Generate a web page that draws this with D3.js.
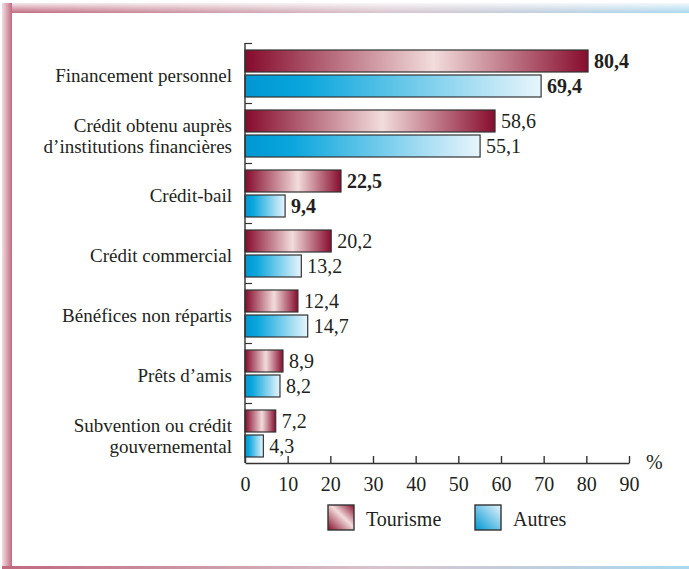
<!doctype html>
<html lang="fr">
<head>
  <meta charset="utf-8">
  <title>Sources de financement</title>
  <script src="https://cdn.jsdelivr.net/npm/d3@7"></script>
  <style>
    body { margin: 0; background: #fff; }
    svg text { fill: #231f20; }
  </style>
</head>
<body>
  <div id="chart"></div>
  <script>
    // data
    var categories = [
      ["Financement personnel"],
      ["Crédit obtenu auprès", "d’institutions financières"],
      ["Crédit-bail"],
      ["Crédit commercial"],
      ["Bénéfices non répartis"],
      ["Prêts d’amis"],
      ["Subvention ou crédit", "gouvernemental"]
    ];
    var tourisme = [80.4, 58.6, 22.5, 20.2, 12.4, 8.9, 7.2];
    var autres = [69.4, 55.1, 9.4, 13.2, 14.7, 8.2, 4.3];
    var boldRows = [0, 2];
    var seriesNames = ["Tourisme", "Autres"];
    var xTicks = [0, 10, 20, 30, 40, 50, 60, 70, 80, 90];

    var serif = "'Liberation Serif', 'DejaVu Serif', 'Times New Roman', serif";
    var W = 689, H = 569;
    var svg = d3.select("#chart").append("svg")
      .attr("width", W).attr("height", H)
      .style("font-family", serif);

    var defs = svg.append("defs");

    // frame gradients
    var gTop = defs.append("linearGradient").attr("id", "frameTop");
    gTop.append("stop").attr("offset", "0%").attr("stop-color", "#c0687e");
    gTop.append("stop").attr("offset", "55%").attr("stop-color", "#d8c4cc");
    gTop.append("stop").attr("offset", "100%").attr("stop-color", "#a9d8ee");
    var gTopFade = defs.append("linearGradient").attr("id", "frameTopFade")
      .attr("x1", 0).attr("y1", 0).attr("x2", 0).attr("y2", 1);
    gTopFade.append("stop").attr("offset", "0%").attr("stop-color", "#fff").attr("stop-opacity", 0.85);
    gTopFade.append("stop").attr("offset", "100%").attr("stop-color", "#fff").attr("stop-opacity", 0);
    var gLeft = defs.append("linearGradient").attr("id", "frameLeft");
    gLeft.append("stop").attr("offset", "0%").attr("stop-color", "#f4dde3");
    gLeft.append("stop").attr("offset", "100%").attr("stop-color", "#bf6a80");

    // bar gradients
    var gT = defs.append("linearGradient").attr("id", "gradT");
    gT.append("stop").attr("offset", "0%").attr("stop-color", "#850a2c");
    gT.append("stop").attr("offset", "55%").attr("stop-color", "#f2dcdc");
    gT.append("stop").attr("offset", "100%").attr("stop-color", "#870c2e");
    var gA = defs.append("linearGradient").attr("id", "gradA");
    gA.append("stop").attr("offset", "0%").attr("stop-color", "#0097d3");
    gA.append("stop").attr("offset", "20%").attr("stop-color", "#0aa6dc");
    gA.append("stop").attr("offset", "100%").attr("stop-color", "#e8f5fc");
    var gTL = defs.append("linearGradient").attr("id", "gradTL")
      .attr("x1", 0).attr("y1", 1).attr("x2", 1).attr("y2", 0);
    gTL.append("stop").attr("offset", "0%").attr("stop-color", "#8a0f2f");
    gTL.append("stop").attr("offset", "55%").attr("stop-color", "#f2dcdc");
    gTL.append("stop").attr("offset", "100%").attr("stop-color", "#8a0f2f");
    var gAL = defs.append("linearGradient").attr("id", "gradAL")
      .attr("x1", 0).attr("y1", 1).attr("x2", 1).attr("y2", 0);
    gAL.append("stop").attr("offset", "0%").attr("stop-color", "#0097d3");
    gAL.append("stop").attr("offset", "100%").attr("stop-color", "#e8f5fc");

    // frame
    svg.append("rect").attr("x", 2).attr("y", 3).attr("width", W - 2).attr("height", 10).attr("fill", "url(#frameTop)");
    svg.append("rect").attr("x", 2).attr("y", 3).attr("width", W - 2).attr("height", 10).attr("fill", "url(#frameTopFade)");
    svg.append("rect").attr("x", 2).attr("y", 3).attr("width", 10).attr("height", H - 3).attr("fill", "url(#frameLeft)");
    svg.append("rect").attr("x", 2).attr("y", 566).attr("width", W - 2).attr("height", 3).attr("fill", "url(#frameTop)");

    // scales
    var x = d3.scaleLinear().domain([0, 90]).range([245, 629]);
    var y = d3.scaleBand().domain(d3.range(categories.length)).range([43, 463]);

    var g = svg.append("g");

    // group ticks on the vertical axis
    g.selectAll(".gtick").data(d3.range(categories.length)).enter().append("line")
      .attr("x1", x(0)).attr("x2", x(0) + 7)
      .attr("y1", function (d) { return y(d) + 0.5; })
      .attr("y2", function (d) { return y(d) + 0.5; })
      .attr("stroke", "#333").attr("stroke-width", 1.2);

    var rows = d3.range(categories.length);
    var barH = 22;

    // bars
    g.selectAll(".barT").data(rows).enter().append("rect")
      .attr("x", x(0)).attr("y", function (i) { return y(i) + 7; })
      .attr("width", function (i) { return x(tourisme[i]) - x(0); })
      .attr("height", barH)
      .attr("fill", "url(#gradT)").attr("stroke", "#333").attr("stroke-width", 1.2);
    g.selectAll(".barA").data(rows).enter().append("rect")
      .attr("x", x(0)).attr("y", function (i) { return y(i) + 32; })
      .attr("width", function (i) { return x(autres[i]) - x(0); })
      .attr("height", barH)
      .attr("fill", "url(#gradA)").attr("stroke", "#333").attr("stroke-width", 1.2);

    var fmt = function (v) { return d3.format(".1f")(v).replace(".", ","); };

    // value labels
    g.selectAll(".valT").data(rows).enter().append("text")
      .attr("x", function (i) { return x(tourisme[i]) + 6; })
      .attr("y", function (i) { return y(i) + 7 + barH / 2 + 7; })
      .attr("font-size", 20)
      .attr("font-weight", function (i) { return boldRows.indexOf(i) >= 0 ? "bold" : "normal"; })
      .text(function (i) { return fmt(tourisme[i]); });
    g.selectAll(".valA").data(rows).enter().append("text")
      .attr("x", function (i) { return x(autres[i]) + 6; })
      .attr("y", function (i) { return y(i) + 32 + barH / 2 + 7; })
      .attr("font-size", 20)
      .attr("font-weight", function (i) { return boldRows.indexOf(i) >= 0 ? "bold" : "normal"; })
      .text(function (i) { return fmt(autres[i]); });

    // category labels
    rows.forEach(function (i) {
      var lines = categories[i];
      var cy = y(i) + y.bandwidth() / 2 + 3;
      var t = g.append("text").attr("x", 232).attr("text-anchor", "end").attr("font-size", 19);
      lines.forEach(function (ln, k) {
        t.append("tspan").attr("x", 232)
          .attr("y", cy + 6 + (k - (lines.length - 1) / 2) * 21)
          .text(ln);
      });
    });

    // vertical axis line
    g.append("line").attr("x1", x(0)).attr("x2", x(0)).attr("y1", 43).attr("y2", 463)
      .attr("stroke", "#333").attr("stroke-width", 1.4);

    // x axis
    var xAxis = d3.axisBottom(x).tickValues(xTicks).tickSizeInner(-7).tickSizeOuter(0).tickPadding(14);
    var ax = svg.append("g").attr("transform", "translate(0,463)").call(xAxis);
    ax.attr("font-family", null).style("font-family", serif);
    ax.select(".domain").attr("stroke", "#333").attr("stroke-width", 1.4);
    ax.selectAll(".tick line").attr("stroke", "#333").attr("stroke-width", 1.4);
    ax.selectAll(".tick text").attr("font-size", 20).attr("fill", "#231f20");
    svg.append("text").attr("x", 646).attr("y", 469).attr("font-size", 20).text("%");

    // legend
    var legX = [328, 475];
    var legFill = ["url(#gradTL)", "url(#gradAL)"];
    seriesNames.forEach(function (name, k) {
      svg.append("rect").attr("x", legX[k]).attr("y", 505).attr("width", 26).attr("height", 25)
        .attr("fill", legFill[k]).attr("stroke", "#333").attr("stroke-width", 1.4);
      svg.append("text").attr("x", legX[k] + 38).attr("y", 526).attr("font-size", 20).text(name);
    });
  </script>
</body>
</html>
